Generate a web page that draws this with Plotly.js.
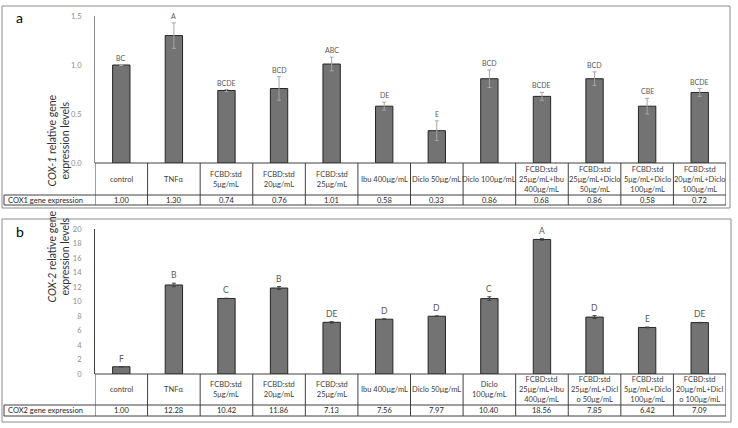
<!DOCTYPE html>
<html><head><meta charset="utf-8">
<script src="https://cdn.plot.ly/plotly-3.0.1.min.js"></script>
<style>html,body{margin:0;padding:0;background:#fff}</style>
</head><body><div id="chart" style="width:738px;height:428px"></div>
<script>
// ---- data ----
const categoriesA = ["control","TNFα","FCBD:std<br>5μg/mL","FCBD:std<br>20μg/mL","FCBD:std<br>25μg/mL","Ibu 400μg/mL","Diclo 50μg/mL","Diclo 100μg/mL","FCBD:std<br>25μg/mL+Ibu<br>400μg/mL","FCBD:std<br>25μg/mL+Diclo<br>50μg/mL","FCBD:std<br>5μg/mL+Diclo<br>100μg/mL","FCBD:std<br>20μg/mL+Diclo<br>100μg/mL"];
const cox1Values = [1.00,1.30,0.74,0.76,1.01,0.58,0.33,0.86,0.68,0.86,0.58,0.72];
const cox1Errors = [0.005,0.13,0.01,0.12,0.07,0.04,0.10,0.09,0.04,0.07,0.08,0.04];
const cox1Letters = ["BC","A","BCDE","BCD","ABC","DE","E","BCD","BCDE","BCD","CBE","BCDE"];

const categoriesB = ["control","TNFα","FCBD:std<br>5μg/mL","FCBD:std<br>20μg/mL","FCBD:std<br>25μg/mL","Ibu 400μg/mL","Diclo 50μg/mL","Diclo<br>100μg/mL","FCBD:std<br>25μg/mL+Ibu<br>400μg/mL","FCBD:std<br>25μg/mL+Dicl<br>o 50μg/mL","FCBD:std<br>5μg/mL+Diclo<br>100μg/mL","FCBD:std<br>20μg/mL+Dicl<br>o 100μg/mL"];
const cox2Values = [1.00,12.28,10.42,11.86,7.13,7.56,7.97,10.40,18.56,7.85,6.42,7.09];
const cox2Errors = [0.02,0.25,0.03,0.2,0.1,0.05,0.05,0.25,0.1,0.2,0.05,0.03];
const cox2Letters = ["F","B","C","B","DE","D","D","C","A","D","E","DE"];

// ---- layout helpers ----
const W=738,H=428;
const px=p=>p/W, py=p=>1-p/H;
const FONT="Lato, 'Open Sans', sans-serif";
const xL=95, xR=726;

const panels=[
 {xa:'x',ya:'y',cats:categoriesA,vals:cox1Values,errs:cox1Errors,letters:cox1Letters,
  top:16,catTop:163,catBot:195,rowBot:205,box:[2,6,730,208],tag:'a',rowLabel:'COX1 gene expression',
  title:'<i>COX-1</i> relative gene<br>expression levels',errColor:'#a6a6a6',letterSize:7,tagY:18},
 {xa:'x2',ya:'y2',cats:categoriesB,vals:cox2Values,errs:cox2Errors,letters:cox2Letters,
  top:229,catTop:374,catBot:405,rowBot:416,box:[2,219,731,422],tag:'b',rowLabel:'COX2 gene expression',
  title:'<i>COX-2</i> relative gene<br>expression levels',errColor:'#404040',letterSize:8.5,tagY:232}
];

const traces=[], shapes=[], annotations=[];
const lineStyle={color:'#404040',width:1};

panels.forEach(P=>{
  traces.push({type:'bar',x:P.cats,y:P.vals,xaxis:P.xa,yaxis:P.ya,width:0.33,
    marker:{color:'#737373',line:{color:'#262626',width:1}},
    error_y:{type:'data',array:P.errs,visible:true,color:P.errColor,thickness:1,width:2},
    hoverinfo:'skip',showlegend:false});
  shapes.push({type:'rect',xref:'paper',yref:'paper',x0:px(P.box[0]),x1:px(P.box[2]),y0:py(P.box[1]),y1:py(P.box[3]),line:{color:'#8c8c8c',width:1}});
  shapes.push({type:'line',xref:'paper',yref:'paper',x0:px(xL),x1:px(xR),y0:py(P.catTop),y1:py(P.catTop),line:lineStyle});
  shapes.push({type:'line',xref:'paper',yref:'paper',x0:px(4),x1:px(xR),y0:py(P.catBot),y1:py(P.catBot),line:lineStyle});
  shapes.push({type:'line',xref:'paper',yref:'paper',x0:px(4),x1:px(xR),y0:py(P.rowBot),y1:py(P.rowBot),line:lineStyle});
  shapes.push({type:'line',xref:'paper',yref:'paper',x0:px(4),x1:px(4),y0:py(P.catBot),y1:py(P.rowBot),line:lineStyle});
  for(let i=0;i<=P.cats.length;i++){
    shapes.push({type:'line',xref:P.xa,yref:'paper',x0:i-0.5,x1:i-0.5,y0:py(P.catTop),y1:py(P.rowBot),line:lineStyle});
  }
  P.cats.forEach((c,i)=>{
    annotations.push({xref:P.xa,yref:'paper',x:i,y:py((P.catTop+P.catBot)/2),text:c,showarrow:false,
      font:{family:FONT,size:7.5,color:'#404040'},align:'center',yanchor:'middle'});
    annotations.push({xref:P.xa,yref:'paper',x:i,y:py((P.catBot+P.rowBot)/2),text:P.vals[i].toFixed(2),showarrow:false,
      font:{family:FONT,size:7.5,color:'#262626'},yanchor:'middle'});
    annotations.push({xref:P.xa,yref:P.ya,x:i,y:P.vals[i]+P.errs[i],text:P.letters[i],showarrow:false,
      font:{family:FONT,size:P.letterSize,color:'#595959'},yanchor:'bottom',yshift:1});
  });
  annotations.push({xref:'paper',yref:'paper',x:px(6),y:py((P.catBot+P.rowBot)/2),text:P.rowLabel,showarrow:false,
    xanchor:'left',yanchor:'middle',font:{family:FONT,size:7.5,color:'#262626'}});
  annotations.push({xref:'paper',yref:'paper',x:px(43),y:py((P.top+P.catTop)/2+3),text:P.title,showarrow:false,
    textangle:-90,font:{family:FONT,size:10.5,color:'#333'}});
  annotations.push({xref:'paper',yref:'paper',x:px(14),y:py(P.tagY),text:P.tag,showarrow:false,xanchor:'left',yanchor:'middle',
    font:{family:FONT,size:14,color:'#000'}});
});

const yCommon={showgrid:false,zeroline:false,showline:true,linecolor:'#8c8c8c',linewidth:1,ticks:'',
  tickfont:{family:FONT,size:7.5,color:'#8c8c8c'},ticklabelstandoff:11,fixedrange:true};
const xCommon={showgrid:false,zeroline:false,showline:false,showticklabels:false,ticks:'',range:[-0.5,11.5],
  domain:[px(xL),px(xR)],type:'category'};

const layout={width:W,height:H,margin:{l:0,r:0,t:0,b:0},paper_bgcolor:'#fff',plot_bgcolor:'rgba(0,0,0,0)',
  showlegend:false,bargap:0.67,
  xaxis:Object.assign({},xCommon,{anchor:'y'}),
  yaxis:Object.assign({},yCommon,{domain:[py(163),py(16)],range:[0,1.5],dtick:0.5,tickformat:'.1f',anchor:'x'}),
  xaxis2:Object.assign({},xCommon,{anchor:'y2'}),
  yaxis2:Object.assign({},yCommon,{domain:[py(374),py(229)],range:[0,20],dtick:2,anchor:'x2',linecolor:'#404040'}),
  shapes:shapes,annotations:annotations};

Plotly.newPlot('chart',traces,layout,{staticPlot:true,displayModeBar:false});
</script></body></html>
